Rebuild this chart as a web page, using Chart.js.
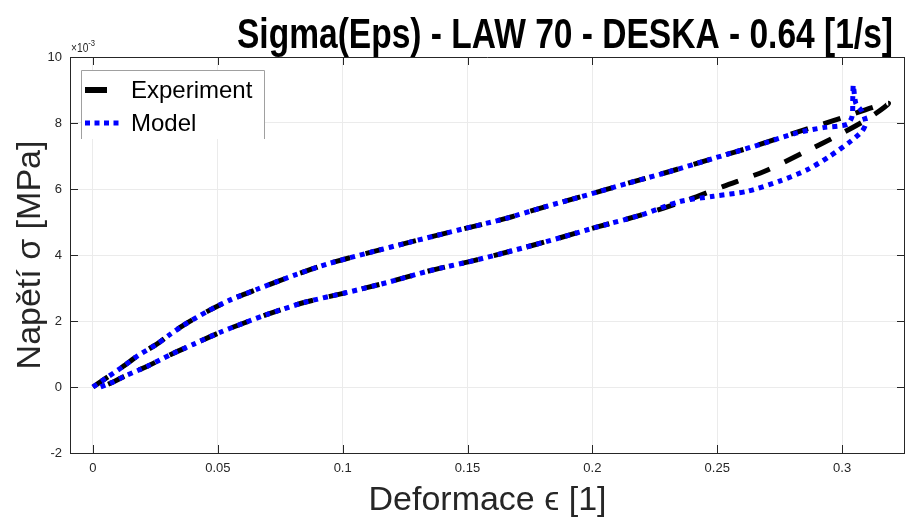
<!DOCTYPE html>
<html>
<head>
<meta charset="utf-8">
<script src="https://cdn.jsdelivr.net/npm/chart.js@4.4.1/dist/chart.umd.min.js"></script>
<style>
  html, body { margin: 0; padding: 0; background: #fff; }
  #wrap { width: 905px; height: 521px; }
</style>
</head>
<body>
<div id="wrap"><canvas id="chart-1"></canvas></div>
<script>
// sigma values are in units of 1e-3 MPa (axis shows x10^-3)
const expEps = [0, 0.006, 0.012, 0.018, 0.026, 0.031, 0.036, 0.046, 0.055, 0.066, 0.074, 0.081, 0.094, 0.111, 0.127, 0.146, 0.165, 0.181, 0.198, 0.214, 0.231, 0.249, 0.265, 0.279, 0.2965, 0.3185,
  0.311, 0.299, 0.2845, 0.269, 0.2525, 0.238, 0.219, 0.202, 0.186, 0.1685, 0.1525, 0.1352, 0.118, 0.102, 0.0845, 0.0698, 0.0605, 0.051, 0.0404, 0.031, 0.0218, 0.0124, 0.0083, 0.003, 0];
const expSigma = [0, 0.31, 0.62, 0.95, 1.32, 1.6, 1.86, 2.3, 2.64, 2.97, 3.2, 3.4, 3.73, 4.08, 4.39, 4.75, 5.1, 5.46, 5.82, 6.17, 6.53, 6.94, 7.3, 7.65, 8.07, 8.6,
  8.16, 7.65, 7.1, 6.54, 6.08, 5.66, 5.2, 4.85, 4.5, 4.14, 3.83, 3.53, 3.17, 2.87, 2.56, 2.2, 1.94, 1.66, 1.3, 0.98, 0.63, 0.32, 0.16, 0, 0];

const modelEps = [0, 0.006, 0.012, 0.018, 0.026, 0.031, 0.036, 0.046, 0.055, 0.066, 0.074, 0.081, 0.094, 0.111, 0.127, 0.146, 0.165, 0.181, 0.198, 0.214, 0.231, 0.249, 0.265, 0.282, 0.2925, 0.302, 0.304, 0.3043, 0.3045,
  0.3055, 0.308, 0.3095, 0.308, 0.303, 0.295, 0.286, 0.275, 0.262, 0.2485, 0.235, 0.219, 0.202, 0.186, 0.1685, 0.1525, 0.1352, 0.118, 0.102, 0.0845, 0.0698, 0.0605, 0.051, 0.0404, 0.031, 0.0218, 0.0124, 0.0083, 0.003];
const modelSigma = [0, 0.31, 0.62, 0.95, 1.32, 1.6, 1.86, 2.3, 2.64, 2.97, 3.2, 3.4, 3.73, 4.08, 4.39, 4.75, 5.1, 5.46, 5.82, 6.17, 6.53, 6.94, 7.3, 7.7, 7.86, 7.96, 8.2, 8.8, 9.15,
  8.6, 8.35, 8.0, 7.75, 7.42, 6.99, 6.58, 6.24, 5.93, 5.78, 5.62, 5.2, 4.85, 4.5, 4.14, 3.83, 3.53, 3.17, 2.87, 2.56, 2.2, 1.94, 1.66, 1.3, 0.98, 0.63, 0.32, 0.16, 0];

const seriesNames = ['Experiment', 'Model'];
const xTicks = [0, 0.05, 0.1, 0.15, 0.2, 0.25, 0.3];
const xTickLabels = ['0', '0.05', '0.1', '0.15', '0.2', '0.25', '0.3'];
const yTicks = [-2, 0, 2, 4, 6, 8, 10];
const yTickLabels = ['-2', '0', '2', '4', '6', '8', '10'];

const titleText = 'Sigma(Eps) - LAW 70 - DESKA - 0.64 [1/s]';
const xTitle = 'Deformace \u03F5 [1]';
const yTitle = 'Napětí σ [MPa]';

function toPoints(xs, ys) {
  return xs.map((x, i) => ({ x: x, y: ys[i] }));
}

const axisColor = '#262626';
const gridColor = '#ebebeb';
const sans = '"Liberation Sans", Arial, sans-serif';

// draws text squeezed horizontally (the original uses a narrow font)
function narrowText(ctx, text, x, y, squeeze) {
  ctx.save();
  ctx.translate(x, y);
  ctx.scale(squeeze, 1);
  ctx.fillText(text, 0, 0);
  ctx.restore();
}

// matlab look: box, inward ticks, exponent, title, legend
const matlabDeco = {
  id: 'matlabDeco',
  beforeDraw(chart) {
    const ctx = chart.ctx;
    ctx.save();
    ctx.fillStyle = '#fff';
    ctx.fillRect(0, 0, chart.width, chart.height);
    ctx.restore();
  },
  afterDraw(chart) {
    const ctx = chart.ctx;
    const a = chart.chartArea;
    const xs = chart.scales.x, ys = chart.scales.y;
    ctx.save();
    ctx.strokeStyle = axisColor;
    ctx.lineWidth = 1;
    ctx.beginPath();
    ctx.moveTo(a.left, a.top + 0.5); ctx.lineTo(a.right, a.top + 0.5);
    ctx.moveTo(a.right - 0.5, a.top); ctx.lineTo(a.right - 0.5, a.bottom);
    const tl = 8;
    xTicks.forEach(v => {
      const px = Math.round(xs.getPixelForValue(v)) + 0.5;
      ctx.moveTo(px, a.bottom); ctx.lineTo(px, a.bottom - tl);
      ctx.moveTo(px, a.top); ctx.lineTo(px, a.top + tl);
    });
    yTicks.forEach(v => {
      const py = Math.round(ys.getPixelForValue(v)) + 0.5;
      ctx.moveTo(a.left, py); ctx.lineTo(a.left + tl, py);
      ctx.moveTo(a.right, py); ctx.lineTo(a.right - tl, py);
    });
    ctx.stroke();

    // exponent label
    ctx.fillStyle = axisColor;
    ctx.textBaseline = 'alphabetic';
    ctx.textAlign = 'left';
    ctx.font = '12px ' + sans;
    narrowText(ctx, '\u00D710', a.left + 1, a.top - 5, 0.85);
    const w = ctx.measureText('\u00D710').width * 0.85;
    ctx.font = '9px ' + sans;
    narrowText(ctx, '-3', a.left + 1 + w, a.top - 11, 0.85);

    // title
    ctx.fillStyle = '#000';
    ctx.font = 'bold 43px ' + sans;
    ctx.textAlign = 'center';
    const tw = ctx.measureText(titleText).width;
    narrowText(ctx, titleText, 565, 48, 656 / tw);

    // legend
    const lx = 81, ly = 70, lr = 264, lb = 139;
    ctx.fillStyle = '#fff';
    ctx.fillRect(lx, ly, lr - lx, lb - ly);
    ctx.strokeStyle = '#a0a0a0';
    ctx.beginPath();
    ctx.moveTo(lx + 0.5, lb); ctx.lineTo(lx + 0.5, ly + 0.5); ctx.lineTo(lr + 0.5, ly + 0.5); ctx.lineTo(lr + 0.5, lb);
    ctx.stroke();
    const ds = chart.data.datasets;
    ctx.lineCap = 'butt';
    ctx.strokeStyle = ds[0].borderColor;
    ctx.lineWidth = 6;
    ctx.beginPath(); ctx.moveTo(85, 90); ctx.lineTo(107, 90); ctx.stroke();
    ctx.strokeStyle = ds[1].borderColor;
    ctx.lineWidth = 5;
    ctx.setLineDash([5, 4.5]);
    ctx.beginPath(); ctx.moveTo(85, 123); ctx.lineTo(123, 123); ctx.stroke();
    ctx.setLineDash([]);
    ctx.fillStyle = '#000';
    ctx.font = '24px ' + sans;
    ctx.textAlign = 'left';
    ctx.textBaseline = 'middle';
    ctx.fillText(ds[0].label, 131, 91);
    ctx.fillText(ds[1].label, 131, 124);
    ctx.restore();
  }
};

new Chart(document.querySelector('#chart-1'), {
  type: 'scatter',
  data: {
    datasets: [{
      label: seriesNames[0],
      data: toPoints(expEps, expSigma),
      showLine: true,
      borderColor: '#000000',
      borderWidth: 5,
      borderDash: [18, 16],
      tension: 0.25,
      pointRadius: 0,
      order: 1
    }, {
      label: seriesNames[1],
      data: toPoints(modelEps, modelSigma),
      showLine: true,
      borderColor: '#0000ff',
      borderWidth: 5,
      borderDash: [5, 5],
      borderCapStyle: 'butt',
      tension: 0.25,
      pointRadius: 0,
      order: 0
    }]
  },
  options: {
    responsive: true,
    maintainAspectRatio: false,
    animation: false,
    layout: { padding: { top: 57, right: 0, left: 0, bottom: 0 }, autoPadding: false },
    plugins: {
      legend: { display: false },
      tooltip: { enabled: false },
      title: { display: false }
    },
    scales: {
      x: {
        type: 'linear',
        min: -0.0092,
        max: 0.3252,
        afterBuildTicks: (s) => { s.ticks = xTicks.map(v => ({ value: v })); },
        afterFit: (s) => { s.height = 68; },
        ticks: {
          color: axisColor,
          font: { family: sans, size: 13 },
          padding: 8,
          maxRotation: 0,
          callback: (v, i) => xTickLabels[i]
        },
        grid: { color: gridColor, drawTicks: false },
        border: { color: axisColor },
        title: {
          display: true,
          text: xTitle,
          color: '#262626',
          font: { family: sans, size: 34 },
          padding: { top: 0, bottom: 0 }
        }
      },
      y: {
        type: 'linear',
        min: -2,
        max: 10,
        afterBuildTicks: (s) => { s.ticks = yTicks.map(v => ({ value: v })); },
        afterFit: (s) => { s.width = 70; },
        ticks: {
          color: axisColor,
          font: { family: sans, size: 13 },
          padding: 8,
          callback: (v, i) => yTickLabels[i]
        },
        grid: { color: gridColor, drawTicks: false },
        border: { color: axisColor },
        title: {
          display: true,
          text: yTitle,
          color: '#262626',
          font: { family: sans, size: 34 },
          padding: { top: 10, bottom: 0 }
        }
      }
    }
  },
  plugins: [matlabDeco]
});
</script>
</body>
</html>
